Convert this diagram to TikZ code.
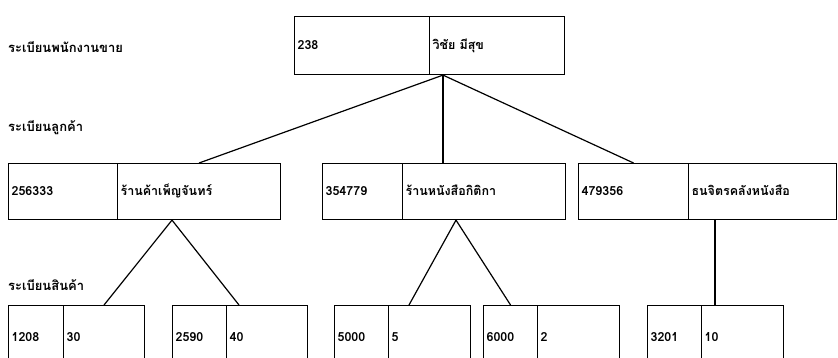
\documentclass[tikz,border=0pt]{standalone}
\usepackage{fontspec}
\newfontfamily\thaifont[Script=Thai]{Loma}
\usepackage{tikz}
\usetikzlibrary{positioning}

\begin{document}
\begin{tikzpicture}[x=1pt,y=-1pt,
							cell/.style={draw=black, line width=1.1pt, anchor=north west, inner xsep=3pt, text height=10pt, text depth=3pt, align=left, font=\thaifont\bfseries\fontsize{12.5}{14}\selectfont},
							head/.style={anchor=west, inner sep=0pt, font=\thaifont\bfseries\fontsize{13}{15}\selectfont},
							link/.style={line width=1.2pt},
							]
							\useasboundingbox (0,0) rectangle (838,357);
							%Labels
							\node[head]      (lemp)   at  (8,47)     {ระเบียนพนักงานขาย};
							\node[head]      (lcust)  at  (8,128)    {ระเบียนลูกค้า};
							\node[head]      (lprod)  at  (8,285)    {ระเบียนสินค้า};
							%Employee
							\node[cell, text width=129pt, minimum height=58pt]  (emp1)   at  (294,16)   {238};
							\node[cell, text width=129pt, minimum height=58pt]  (emp2)   at  (429,16)   {วิชัย มีสุข};
							%Customers
							\node[cell, text width=103pt, minimum height=56pt]  (cust1a) at  (8,163)    {256333};
							\node[cell, text width=157pt, minimum height=56pt]  (cust1b) at  (117,163)  {ร้านค้าเพ็ญจันทร์};
							\node[cell, text width=74pt, minimum height=56pt]   (cust2a) at  (322,163)  {354779};
							\node[cell, text width=157pt, minimum height=56pt]  (cust2b) at  (402,163)  {ร้านหนังสือกิติกา};
							\node[cell, text width=104pt, minimum height=56pt]  (cust3a) at  (578,163)  {479356};
							\node[cell, text width=142pt, minimum height=56pt]  (cust3b) at  (688,163)  {ธนจิตรคลังหนังสือ};
							%Products
							\node[cell, text width=49pt, minimum height=64pt]   (prod1a) at  (8,305)    {1208};
							\node[cell, text width=75pt, minimum height=64pt]   (prod1b) at  (63,305)   {30};
							\node[cell, text width=48pt, minimum height=64pt]   (prod2a) at  (172,305)  {2590};
							\node[cell, text width=75pt, minimum height=64pt]   (prod2b) at  (226,305)  {40};
							\node[cell, text width=48pt, minimum height=64pt]   (prod3a) at  (334,305)  {5000};
							\node[cell, text width=76pt, minimum height=64pt]   (prod3b) at  (388,305)  {5};
							\node[cell, text width=48pt, minimum height=64pt]   (prod4a) at  (483,305)  {6000};
							\node[cell, text width=76pt, minimum height=64pt]   (prod4b) at  (537,305)  {2};
							\node[cell, text width=48pt, minimum height=64pt]   (prod5a) at  (647,305)  {3201};
							\node[cell, text width=76pt, minimum height=64pt]   (prod5b) at  (701,305)  {10};
							
							%Joints
							\coordinate (e0) at ([xshift=14pt]emp2.south west);
							\coordinate (c1) at ([xshift=55pt]cust1b.south west);
							\coordinate (c2) at ([xshift=54pt]cust2b.south west);
							\coordinate (c3) at ([xshift=27pt]cust3b.south west);
							
							\draw[link] (e0) --  (cust1b.north);
							\draw[link] (e0) --  ([xshift=41pt]cust2b.north west);
							\draw[link] (e0) --  (cust3a.north);
							\draw[link] (c1) --  (prod1b.north);
							\draw[link] (c1) --  ([xshift=13pt]prod2b.north west);
							\draw[link] (c2) --  ([xshift=21pt]prod3b.north west);
							\draw[link] (c2) --  (prod4a.north);
							\draw[link] (c3) --  ([xshift=14pt]prod5b.north west);
						\end{tikzpicture}
\end{document}
